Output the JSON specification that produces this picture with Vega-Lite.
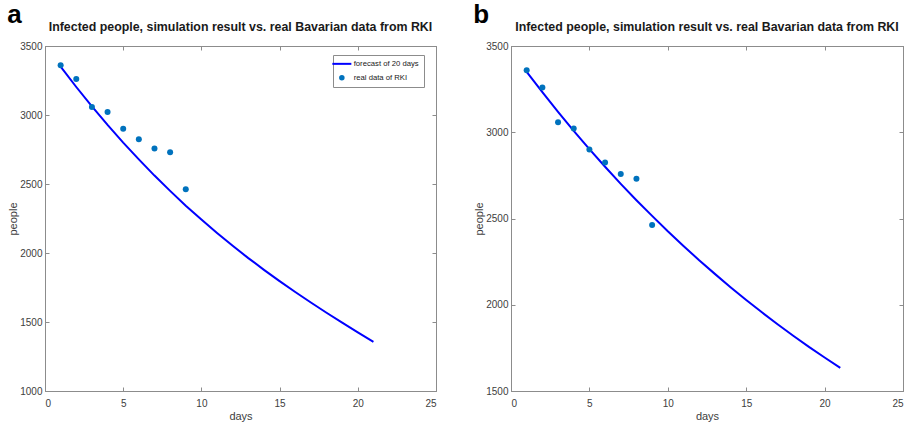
{
  "$schema": "https://vega.github.io/schema/vega-lite/v6.json",
  "background": "white",
  "padding": {"left": 7, "top": 2, "right": 0, "bottom": 2},
  "datasets": {
    "fa": [
      {"day": 1, "people": 3350, "series": "forecast of 20 days"},
      {"day": 2, "people": 3203, "series": "forecast of 20 days"},
      {"day": 3, "people": 3062, "series": "forecast of 20 days"},
      {"day": 4, "people": 2928, "series": "forecast of 20 days"},
      {"day": 5, "people": 2800, "series": "forecast of 20 days"},
      {"day": 6, "people": 2678, "series": "forecast of 20 days"},
      {"day": 7, "people": 2561, "series": "forecast of 20 days"},
      {"day": 8, "people": 2450, "series": "forecast of 20 days"},
      {"day": 9, "people": 2343, "series": "forecast of 20 days"},
      {"day": 10, "people": 2242, "series": "forecast of 20 days"},
      {"day": 11, "people": 2145, "series": "forecast of 20 days"},
      {"day": 12, "people": 2052, "series": "forecast of 20 days"},
      {"day": 13, "people": 1963, "series": "forecast of 20 days"},
      {"day": 14, "people": 1878, "series": "forecast of 20 days"},
      {"day": 15, "people": 1796, "series": "forecast of 20 days"},
      {"day": 16, "people": 1717, "series": "forecast of 20 days"},
      {"day": 17, "people": 1641, "series": "forecast of 20 days"},
      {"day": 18, "people": 1567, "series": "forecast of 20 days"},
      {"day": 19, "people": 1495, "series": "forecast of 20 days"},
      {"day": 20, "people": 1425, "series": "forecast of 20 days"},
      {"day": 21, "people": 1356, "series": "forecast of 20 days"}
    ],
    "fb": [
      {"day": 1, "people": 3350, "series": "forecast of 20 days"},
      {"day": 2, "people": 3232, "series": "forecast of 20 days"},
      {"day": 3, "people": 3118, "series": "forecast of 20 days"},
      {"day": 4, "people": 3008, "series": "forecast of 20 days"},
      {"day": 5, "people": 2902, "series": "forecast of 20 days"},
      {"day": 6, "people": 2800, "series": "forecast of 20 days"},
      {"day": 7, "people": 2701, "series": "forecast of 20 days"},
      {"day": 8, "people": 2606, "series": "forecast of 20 days"},
      {"day": 9, "people": 2515, "series": "forecast of 20 days"},
      {"day": 10, "people": 2426, "series": "forecast of 20 days"},
      {"day": 11, "people": 2341, "series": "forecast of 20 days"},
      {"day": 12, "people": 2258, "series": "forecast of 20 days"},
      {"day": 13, "people": 2179, "series": "forecast of 20 days"},
      {"day": 14, "people": 2102, "series": "forecast of 20 days"},
      {"day": 15, "people": 2028, "series": "forecast of 20 days"},
      {"day": 16, "people": 1956, "series": "forecast of 20 days"},
      {"day": 17, "people": 1887, "series": "forecast of 20 days"},
      {"day": 18, "people": 1820, "series": "forecast of 20 days"},
      {"day": 19, "people": 1756, "series": "forecast of 20 days"},
      {"day": 20, "people": 1694, "series": "forecast of 20 days"},
      {"day": 21, "people": 1634, "series": "forecast of 20 days"}
    ],
    "real": [
      {"day": 1, "people": 3360, "series": "real data of RKI"},
      {"day": 2, "people": 3260, "series": "real data of RKI"},
      {"day": 3, "people": 3058, "series": "real data of RKI"},
      {"day": 4, "people": 3022, "series": "real data of RKI"},
      {"day": 5, "people": 2900, "series": "real data of RKI"},
      {"day": 6, "people": 2825, "series": "real data of RKI"},
      {"day": 7, "people": 2758, "series": "real data of RKI"},
      {"day": 8, "people": 2730, "series": "real data of RKI"},
      {"day": 9, "people": 2462, "series": "real data of RKI"}
    ]
  },
  "config": {
    "font": "Liberation Sans",
    "view": {"stroke": "#8c8c8c", "strokeWidth": 1},
    "axis": {
      "grid": false,
      "domainColor": "#8c8c8c",
      "tickColor": "#8c8c8c",
      "tickSize": -4,
      "format": "d",
      "labelFont": "Liberation Sans",
      "labelFontSize": 10,
      "labelColor": "#404040",
      "titleFont": "Liberation Sans",
      "titleFontSize": 11,
      "titleFontWeight": "normal",
      "titleColor": "#404040"
    },
    "legend": {
      "labelFont": "Liberation Sans",
      "labelFontSize": 7.7,
      "labelColor": "#202020",
      "labelOffset": 8,
      "strokeColor": "#8c8c8c",
      "fillColor": "white",
      "padding": 5,
      "rowPadding": 5,
      "symbolType": "stroke",
      "symbolSize": 361,
      "symbolStrokeWidth": 2
    }
  },
  "spacing": 36,
  "hconcat": [
    {
      "title": {"text": "a", "anchor": "start", "frame": "bounds", "fontSize": 26, "fontWeight": "bold", "font": "Liberation Sans", "color": "black", "offset": -8},
      "vconcat": [
        {
          "title": {"text": "Infected people, simulation result vs. real Bavarian data from RKI", "anchor": "middle", "fontSize": 12.4, "fontWeight": "bold", "font": "Liberation Sans", "color": "#1a1a1a", "offset": 8},
          "width": 391,
          "height": 345,
          "layer": [
            {
              "data": {"name": "fa"},
              "mark": {"type": "line", "strokeWidth": 2},
              "encoding": {
                "x": {"field": "day", "type": "quantitative", "scale": {"domain": [0, 25], "nice": false, "zero": false},
                      "axis": {"orient": "bottom", "title": "days", "values": [0, 5, 10, 15, 20, 25], "labelPadding": 11, "titlePadding": 2}},
                "y": {"field": "people", "type": "quantitative", "scale": {"domain": [1000, 3500], "nice": false, "zero": false},
                      "axis": {"orient": "left", "title": "people", "values": [1000, 1500, 2000, 2500, 3000, 3500], "labelPadding": 7, "titlePadding": 1}},
                "color": {"field": "series", "type": "nominal",
                          "scale": {"domain": ["forecast of 20 days", "real data of RKI"], "range": ["#0000ff", "#0072bd"]},
                          "legend": {"title": null, "orient": "none", "legendX": 288, "legendY": 9,
                                     "encode": {"symbols": {"update": {
                                       "shape": {"signal": "datum.value === 'forecast of 20 days' ? 'stroke' : 'circle'"},
                                       "size": {"signal": "datum.value === 'forecast of 20 days' ? 361 : 30"},
                                       "stroke": {"signal": "datum.value === 'forecast of 20 days' ? '#0000ff' : '#0072bd'"},
                                       "fill": {"signal": "datum.value === 'forecast of 20 days' ? 'transparent' : '#0072bd'"},
                                       "strokeWidth": {"signal": "datum.value === 'forecast of 20 days' ? 2 : 0"}
                                     }}}}}
              }
            },
            {
              "data": {"name": "real"},
              "mark": {"type": "point", "filled": true, "size": 36, "opacity": 1},
              "encoding": {
                "x": {"field": "day", "type": "quantitative",
                      "axis": {"orient": "top", "title": null, "labels": false, "values": [0, 5, 10, 15, 20, 25]}},
                "y": {"field": "people", "type": "quantitative",
                      "axis": {"orient": "right", "title": null, "labels": false, "values": [1000, 1500, 2000, 2500, 3000, 3500]}},
                "color": {"field": "series", "type": "nominal"}
              }
            }
          ],
          "resolve": {"axis": {"x": "independent", "y": "independent"}}
        }
      ]
    },
    {
      "title": {"text": "b", "anchor": "start", "frame": "bounds", "fontSize": 26, "fontWeight": "bold", "font": "Liberation Sans", "color": "black", "offset": -8},
      "vconcat": [
        {
          "title": {"text": "Infected people, simulation result vs. real Bavarian data from RKI", "anchor": "middle", "fontSize": 12.4, "fontWeight": "bold", "font": "Liberation Sans", "color": "#1a1a1a", "offset": 8},
          "width": 392,
          "height": 345,
          "layer": [
            {
              "data": {"name": "fb"},
              "mark": {"type": "line", "strokeWidth": 2},
              "encoding": {
                "x": {"field": "day", "type": "quantitative", "scale": {"domain": [0, 25], "nice": false, "zero": false},
                      "axis": {"orient": "bottom", "title": "days", "values": [0, 5, 10, 15, 20, 25], "labelPadding": 11, "titlePadding": 2}},
                "y": {"field": "people", "type": "quantitative", "scale": {"domain": [1500, 3500], "nice": false, "zero": false},
                      "axis": {"orient": "left", "title": "people", "values": [1500, 2000, 2500, 3000, 3500], "labelPadding": 7, "titlePadding": 1}},
                "color": {"field": "series", "type": "nominal",
                          "scale": {"domain": ["forecast of 20 days", "real data of RKI"], "range": ["#0000ff", "#0072bd"]},
                          "legend": {"title": null, "orient": "none", "legendX": 288, "legendY": 9,
                                     "encode": {"symbols": {"update": {
                                       "shape": {"value": "stroke"},
                                       "size": {"value": 361},
                                       "stroke": {"value": "#0000ff"},
                                       "fill": {"value": "transparent"},
                                       "strokeWidth": {"value": 2}
                                     }}}}}
              }
            },
            {
              "data": {"name": "real"},
              "mark": {"type": "point", "filled": true, "size": 36, "opacity": 1},
              "encoding": {
                "x": {"field": "day", "type": "quantitative",
                      "axis": {"orient": "top", "title": null, "labels": false, "values": [0, 5, 10, 15, 20, 25]}},
                "y": {"field": "people", "type": "quantitative",
                      "axis": {"orient": "right", "title": null, "labels": false, "values": [1500, 2000, 2500, 3000, 3500]}},
                "color": {"field": "series", "type": "nominal"}
              }
            }
          ],
          "resolve": {"axis": {"x": "independent", "y": "independent"}}
        }
      ]
    }
  ]
}
